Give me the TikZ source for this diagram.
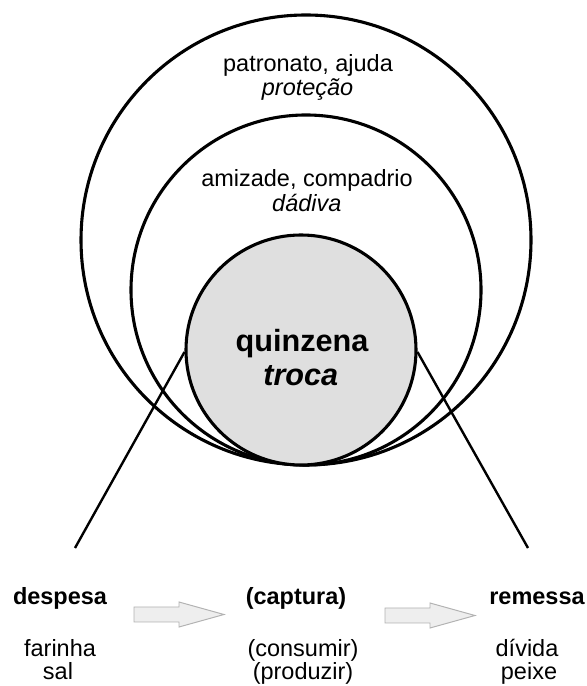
\documentclass[tikz,border=0pt]{standalone}
\usepackage{fontspec}
\setmainfont{Liberation Sans}
\usetikzlibrary{positioning}
\tikzset{ring/.style = {draw, line width = 2.2pt}}
\tikzset{txt/.style = {font = \fontsize{16.7}{19}\selectfont, inner sep = 0, anchor = base}}
\tikzset{head/.style = {font = \fontsize{16.7}{19}\selectfont\bfseries, inner sep = 0, anchor = base}}
\tikzset{seta/.style = {draw = gray!60, fill = gray!13, line width = 0.7pt}}

\begin{document}
\begin{tikzpicture}
      \useasboundingbox (0, 0) rectangle (14.65, 17.15);

      \draw [ring] (7.65, 11.15) circle [radius = 5.625];
      \draw [ring] (7.65, 9.9) circle [radius = 4.375];
      \node [ring, circle, fill = gray!25, minimum size = 5.75cm, inner sep = 0] (nucleo) at (7.525, 8.4) {};

      \node [txt] (patronato) at (7.7, 15.36) {patronato, ajuda};
      \node [txt] (protecao) at (7.69, 14.75) {\textit{proteção}};
      \node [txt] (amizade) at (7.675, 12.48) {amizade, compadrio};
      \node [txt] (dadiva) at (7.67, 11.86) {\textit{dádiva}};
      \node [txt, font = \fontsize{21.8}{24}\selectfont\bfseries] (quinzena) at (7.55, 8.36) {quinzena};
      \node [txt, font = \fontsize{21.8}{24}\selectfont\bfseries] (troca) at (7.52, 7.5) {\textit{troca}};

      \node [head] (despesa) at (1.5, 2.025) {despesa};
      \node [head] (captura) at (7.4, 2.025) {(captura)};
      \node [head] (remessa) at (13.425, 2.025) {remessa};

      \node [txt] (farinha) at (1.5, 0.73) {farinha};
      \node [txt] (sal) at (1.45, 0.16) {sal};
      \node [txt] (consumir) at (7.575, 0.73) {(consumir)};
      \node [txt] (produzir) at (7.575, 0.16) {(produzir)};
      \node [txt] (divida) at (13.175, 0.73) {dívida};
      \node [txt] (peixe) at (13.225, 0.16) {peixe};

      \coordinate (esq) at (1.875, 3.45);
      \coordinate (dir) at (13.2, 3.45);
      \draw [line width = 1.7pt] (nucleo.181.5) -- (esq);
      \draw [line width = 1.7pt] (nucleo.-1.5) -- (dir);

      \foreach \x/\y in {3.35/1.7875, 9.625/1.7625}
        \draw [seta] (\x, \y - 0.1875) -- ++(1.125, 0) -- ++(0, -0.125) -- ++(1.125, 0.3125)
                     -- ++(-1.125, 0.3125) -- ++(0, -0.125) -- ++(-1.125, 0) -- cycle;
    \end{tikzpicture}
\end{document}
